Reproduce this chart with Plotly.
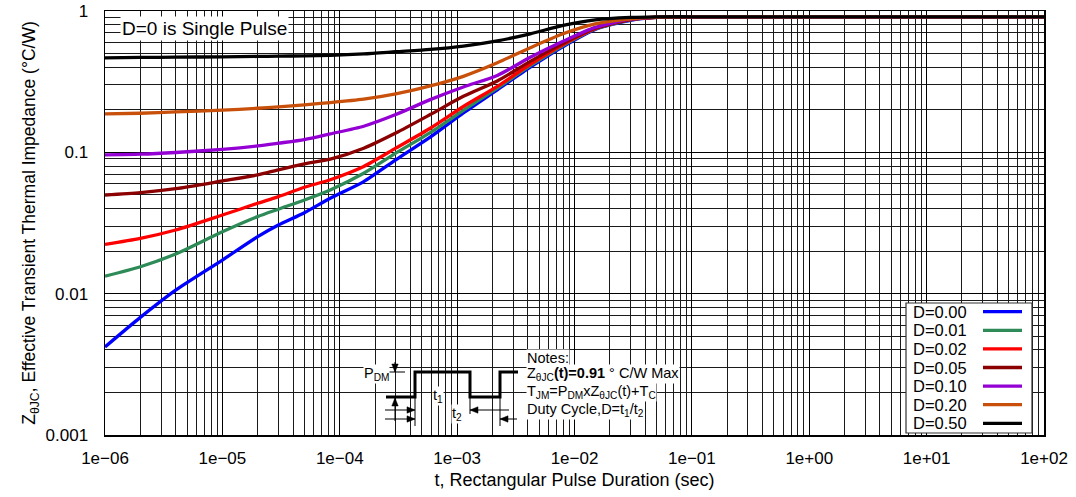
import plotly.graph_objects as go

# ---------------- data ----------------
t_sec = [1e-6, 2e-6, 4e-6, 1e-5, 2e-5, 3e-5, 5e-5, 8.3e-5, 1.6e-4, 3.0e-4,
         5.9e-4, 1.13e-3, 2.2e-3, 4.2e-3, 8.0e-3, 1.5e-2, 3.0e-2, 5.0e-2, 1.0e-1, 1.0e2]

z_d000 = [0.0042, 0.0068, 0.0106, 0.0173, 0.0253, 0.0306, 0.0374, 0.0473, 0.0621, 0.0885,
          0.128, 0.190, 0.277, 0.40, 0.56, 0.74, 0.86, 0.90, 0.91, 0.91]
z_d001 = [0.0133, 0.0155, 0.0191, 0.0274, 0.0351, 0.0396, 0.0460, 0.0542, 0.0711, 0.0986,
          0.138, 0.198, 0.285, 0.41, 0.57, 0.745, 0.865, 0.90, 0.91, 0.91]
z_d002 = [0.0223, 0.0246, 0.0282, 0.0360, 0.0436, 0.0486, 0.0566, 0.0640, 0.0794, 0.107,
          0.148, 0.211, 0.293, 0.42, 0.58, 0.75, 0.87, 0.90, 0.91, 0.91]
z_d005 = [0.0499, 0.0519, 0.0553, 0.0627, 0.0692, 0.0752, 0.0828, 0.0895, 0.107, 0.137,
          0.185, 0.249, 0.32, 0.44, 0.59, 0.755, 0.87, 0.90, 0.91, 0.91]
z_d010 = [0.096, 0.097, 0.0997, 0.105, 0.111, 0.116, 0.123, 0.135, 0.153, 0.185,
          0.236, 0.29, 0.35, 0.47, 0.61, 0.765, 0.875, 0.905, 0.91, 0.91]
z_d020 = [0.187, 0.189, 0.193, 0.199, 0.205, 0.210, 0.217, 0.225, 0.238, 0.259,
          0.295, 0.345, 0.43, 0.55, 0.69, 0.81, 0.88, 0.905, 0.91, 0.91]
z_d050 = [0.466, 0.469, 0.471, 0.474, 0.477, 0.479, 0.482, 0.486, 0.497, 0.515,
          0.535, 0.565, 0.615, 0.69, 0.79, 0.865, 0.90, 0.91, 0.91, 0.91]

series_names = ["D=0.00", "D=0.01", "D=0.02", "D=0.05", "D=0.10", "D=0.20", "D=0.50"]
series_values = [z_d000, z_d001, z_d002, z_d005, z_d010, z_d020, z_d050]
series_colors = ["#0000FF", "#2E8B57", "#FF0000", "#8B0000", "#9400D3", "#C8500A", "#000000"]

x_tick_vals = [1e-6, 1e-5, 1e-4, 1e-3, 1e-2, 1e-1, 1e0, 1e1, 1e2]
x_tick_text = ["1e\u221206", "1e\u221205", "1e\u221204", "1e\u221203", "1e\u221202",
               "1e\u221201", "1e+00", "1e+01", "1e+02"]
y_tick_vals = [0.001, 0.01, 0.1, 1]
y_tick_text = ["0.001", "0.01", "0.1", "1"]

# ---------------- layout helpers ----------------
W, H = 1076, 497
PX0, PX1, PY0, PY1 = 105, 1044, 11, 435   # plot area in page pixels
L, R, T, B = PX0, W - PX1, PY0, H - PY1
PW, PH = PX1 - PX0, PY1 - PY0


def xp(px):
    return (px - PX0) / PW


def yp(py):
    return (PY1 - py) / PH


FONT = "Liberation Sans, Arial, Helvetica, sans-serif"

fig = go.Figure()
for name, vals, col in zip(series_names, series_values, series_colors):
    fig.add_trace(go.Scatter(x=t_sec, y=vals, mode="lines", name=name,
                             line=dict(color=col, width=3.3, shape="spline", smoothing=0.7),
                             showlegend=False, hoverinfo="skip"))

minor_x = [k * 10.0 ** e for e in range(-6, 2) for k in range(2, 10)]
minor_y = [k * 10.0 ** e for e in range(-3, 0) for k in range(2, 10)]

fig.update_xaxes(type="log", range=[-6, 2], tickvals=x_tick_vals, ticktext=x_tick_text,
                 showgrid=True, gridcolor="#000000", gridwidth=1,
                 minor=dict(tickvals=minor_x, showgrid=True, gridcolor="#1a1a1a", gridwidth=1),
                 showline=True, linecolor="#000000", linewidth=1.5, mirror=True,
                 zeroline=False, ticks="", ticklabelstandoff=7, automargin=False,
                 tickfont=dict(size=17, color="#000"),
                 title=dict(text="t, Rectangular Pulse Duration (sec)",
                            font=dict(size=18, color="#000"), standoff=6))
fig.update_yaxes(type="log", range=[-3, 0], tickvals=y_tick_vals, ticktext=y_tick_text,
                 showgrid=True, gridcolor="#000000", gridwidth=1,
                 minor=dict(tickvals=minor_y, showgrid=True, gridcolor="#1a1a1a", gridwidth=1),
                 showline=True, linecolor="#000000", linewidth=1.5, mirror=True,
                 zeroline=False, ticks="", ticklabelstandoff=12, automargin=False,
                 tickfont=dict(size=17, color="#000"),
                 title=dict(text="Z<sub>\u03b8JC</sub>, Effective Transient Thermal Impedance (\u00b0C/W)",
                            font=dict(size=17.5, color="#000"), standoff=5))

shapes = []
annotations = []

# "D=0 is Single Pulse"
annotations.append(dict(xref="paper", yref="paper", x=xp(120), y=yp(28), xanchor="left",
                        yanchor="middle", text="D=0 is Single Pulse", showarrow=False,
                        font=dict(size=19, color="#000", family=FONT), bgcolor="white",
                        borderpad=1))

# legend box (text left, line sample right)
shapes.append(dict(type="rect", xref="paper", yref="paper", x0=xp(906), x1=xp(1032),
                   y0=yp(433), y1=yp(303), fillcolor="white",
                   line=dict(color="#333", width=1.2), layer="above"))
for i, (name, col) in enumerate(zip(series_names, series_colors)):
    cy = 311.7 + i * 18.6
    annotations.append(dict(xref="paper", yref="paper", x=xp(911), y=yp(cy), xanchor="left",
                            yanchor="middle", text=name, showarrow=False,
                            font=dict(size=16.5, color="#000", family=FONT)))
    shapes.append(dict(type="line", xref="paper", yref="paper", x0=xp(983), x1=xp(1022),
                       y0=yp(cy), y1=yp(cy), line=dict(color=col, width=3.3), layer="above"))


def ppath(points, close=False):
    s = "M " + " L ".join(f"{xp(a):.5f},{yp(b):.5f}" for a, b in points)
    return s + (" Z" if close else "")


# pulse diagram
wave = [(386, 397), (415, 397), (415, 372), (470, 372), (470, 397), (500, 397), (500, 372), (518, 372)]
shapes.append(dict(type="path", xref="paper", yref="paper", path=ppath(wave),
                   line=dict(color="#000", width=3), layer="above"))
thin = [((385, 372), (405, 372)), ((395, 362), (395, 372)), ((395, 397), (395, 421)),
        ((415, 397), (415, 426)), ((470, 397), (470, 414)), ((500, 397), (500, 426)),
        ((385, 410), (415, 410)), ((385, 419), (415, 419)),
        ((470, 410), (509, 410)), ((500, 419), (517, 419))]
for (a, b), (c, d) in thin:
    shapes.append(dict(type="line", xref="paper", yref="paper", x0=xp(a), y0=yp(b),
                       x1=xp(c), y1=yp(d), line=dict(color="#000", width=1), layer="above"))
# arrow heads (tip point, direction)
heads = [((395, 372), (0, 1)), ((395, 398), (0, -1)), ((415, 410), (1, 0)), ((415, 419), (1, 0)),
         ((470, 410), (-1, 0)), ((500, 419), (-1, 0))]
for (a, b), (dx, dy) in heads:
    ln, hw = 8, 3.2
    base = (a - dx * ln, b - dy * ln)
    p1 = (base[0] - dy * hw, base[1] + dx * hw)
    p2 = (base[0] + dy * hw, base[1] - dx * hw)
    shapes.append(dict(type="path", xref="paper", yref="paper", path=ppath([(a, b), p1, p2], True),
                       fillcolor="#000", line=dict(color="#000", width=0.5), layer="above"))

small = dict(size=14.5, color="#000", family=FONT)
annotations.append(dict(xref="paper", yref="paper", x=xp(390), y=yp(384), xanchor="right",
                        text="P<sub>DM</sub>", showarrow=False, font=small, bgcolor="white",
                        borderpad=0))
annotations.append(dict(xref="paper", yref="paper", x=xp(438), y=yp(406), text="t<sub>1</sub>",
                        showarrow=False, font=small, bgcolor="white", borderpad=0))
annotations.append(dict(xref="paper", yref="paper", x=xp(457), y=yp(424), text="t<sub>2</sub>",
                        showarrow=False, font=small, bgcolor="white", borderpad=0))

notes = [("Notes:", 358),
         ("Z<sub>\u03b8JC</sub><b>(t)=0.91</b> \u00b0 C/W Max", 374),
         ("T<sub>JM</sub>=P<sub>DM</sub>xZ<sub>\u03b8JC</sub>(t)+T<sub>C</sub>", 392),
         ("Duty Cycle,D=t<sub>1</sub>/t<sub>2</sub>", 410)]
for txt, cy in notes:
    annotations.append(dict(xref="paper", yref="paper", x=xp(526), y=yp(cy), xanchor="left",
                            yanchor="middle", text=txt, showarrow=False, font=small,
                            bgcolor="white", borderpad=0))

fig.update_layout(width=W, height=H, margin=dict(l=L, r=R, t=T, b=B, autoexpand=False),
                  paper_bgcolor="white", plot_bgcolor="white",
                  font=dict(family=FONT, color="#000"), hovermode=False,
                  shapes=shapes, annotations=annotations, showlegend=False)

fig.write_html("out.html", config={"displayModeBar": False, "staticPlot": True},
               post_script="document.body.style.margin='0px';")
